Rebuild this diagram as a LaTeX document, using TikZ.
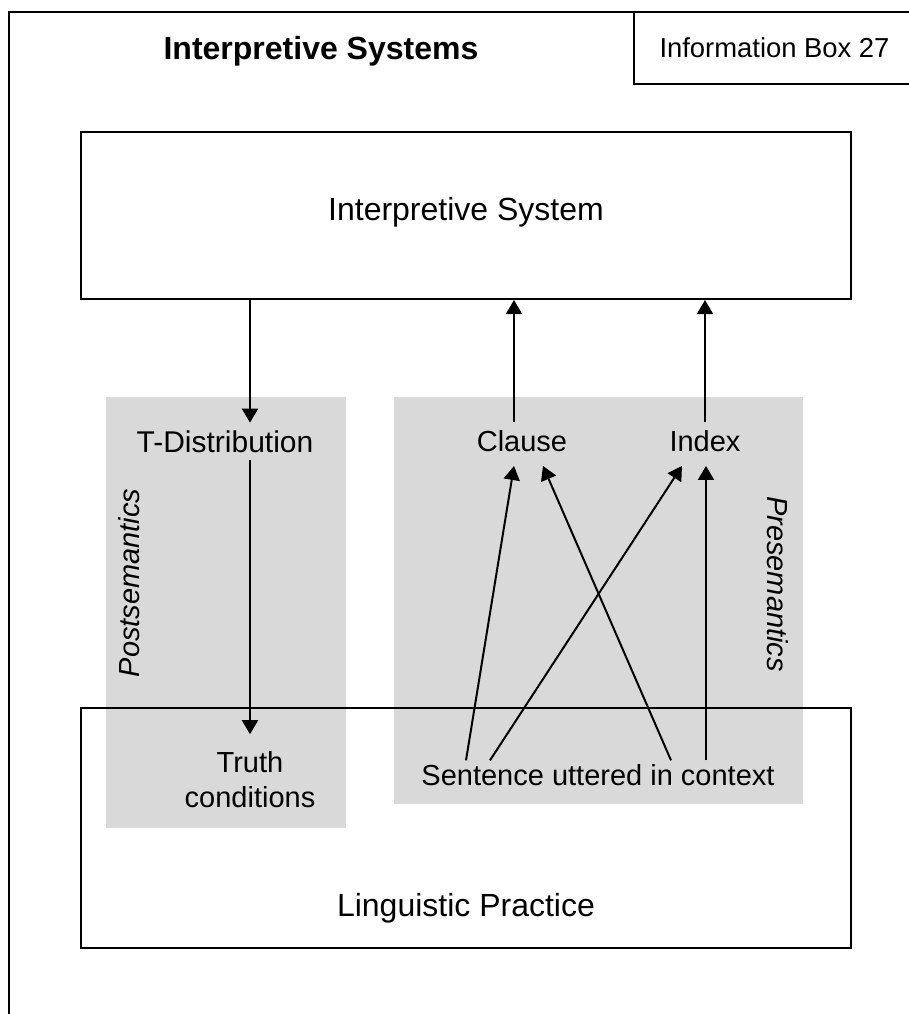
\documentclass[tikz,border=0pt]{standalone}
\usepackage{fontspec}
\setmainfont{Liberation Sans}
\usetikzlibrary{positioning,calc,arrows.meta}
\definecolor{panelgrey}{RGB}{217,217,217}

\begin{document}
\begin{tikzpicture}[x=0.5pt, y=-0.5pt, on grid, line width=1pt,
        box/.style={draw, inner sep=0pt},
        panel/.style={fill=panelgrey, inner sep=0pt},
        lbl/.style={font=\fontsize{14.5}{17.5}\selectfont, anchor=base},
        biglbl/.style={font=\fontsize{16}{19}\selectfont, anchor=base},
        side/.style={font=\fontsize{14.5}{17.5}\selectfont\itshape},
        arr/.style={-{Triangle[length=7pt,width=8pt]}}]
        \useasboundingbox (0,0) rectangle (909,1014);
        % frame of the information box
        \draw (915,12) -- (9,12) -- (9,1020);

        \node[panel, minimum width=120pt, minimum height=215.5pt] (postpanel) at (226,612.5) {};
        \node[panel, minimum width=204.5pt, minimum height=203.5pt] (prepanel) at (598.5,600.5) {};
        \node[box, minimum width=385pt, minimum height=83.5pt] (isbox) at (466,215.5) {};
        \node[box, minimum width=385pt, minimum height=120pt] (lpbox) at (466,828) {};
        \node[box, minimum width=140.5pt, minimum height=36pt, font=\fontsize{13.7}{16}\selectfont] (infobox) at (774.5,48) {Information Box 27};
        \node[font=\bfseries\fontsize{16}{19}\selectfont, anchor=base] (title) at (321,59) {Interpretive Systems};

        \node[biglbl] (islabel) at (466,220) {Interpretive System};
        \node[biglbl] (lplabel) at (466,916) {Linguistic Practice};
        \node[lbl, font=\fontsize{15}{18}\selectfont] (tdist) at (225,452) {T-Distribution};
        \node[lbl, anchor=center, align=center] (truth) at (250,780) {Truth\\conditions};
        \node[lbl] (clause) at (522,451) {Clause};
        \node[lbl] (index) [right=91.5pt of clause] {Index};
        \node[lbl] (sent) at (598,785) {Sentence uttered in context};
        \node[side, rotate=90] (postlabel) at (129,583) {Postsemantics};
        \node[side, rotate=-90] (prelabel) at (778,584) {Presemantics};

        % postsemantics
        \draw[arr] (isbox.south -| truth) -- (tdist.north -| truth);
        \draw[arr] (tdist.south -| truth) -- ([yshift=5pt]truth.north);
        % presemantics
        \coordinate (clauseup) at ($(clause.north)+(-8,0)$);
        \draw[arr] (clauseup) -- (clauseup |- isbox.south);
        \draw[arr] (index.north) -- (index.north |- isbox.south);
        \draw[arr] ([xshift=-66pt,yshift=-2pt]sent.north) -- ([xshift=-4pt,yshift=-3.5pt]clause.south);
        \draw[arr] ([xshift=-54pt,yshift=-2pt]sent.north) -- ([xshift=-11.5pt,yshift=-3.5pt]index.south);
        \draw[arr] ([xshift=36.5pt,yshift=-2pt]sent.north) -- ([xshift=10.5pt,yshift=-3.5pt]clause.south);
        \draw[arr] ([xshift=54pt,yshift=-2pt]sent.north) -- ([xshift=0.5pt,yshift=-3.5pt]index.south);
\end{tikzpicture}
\end{document}
